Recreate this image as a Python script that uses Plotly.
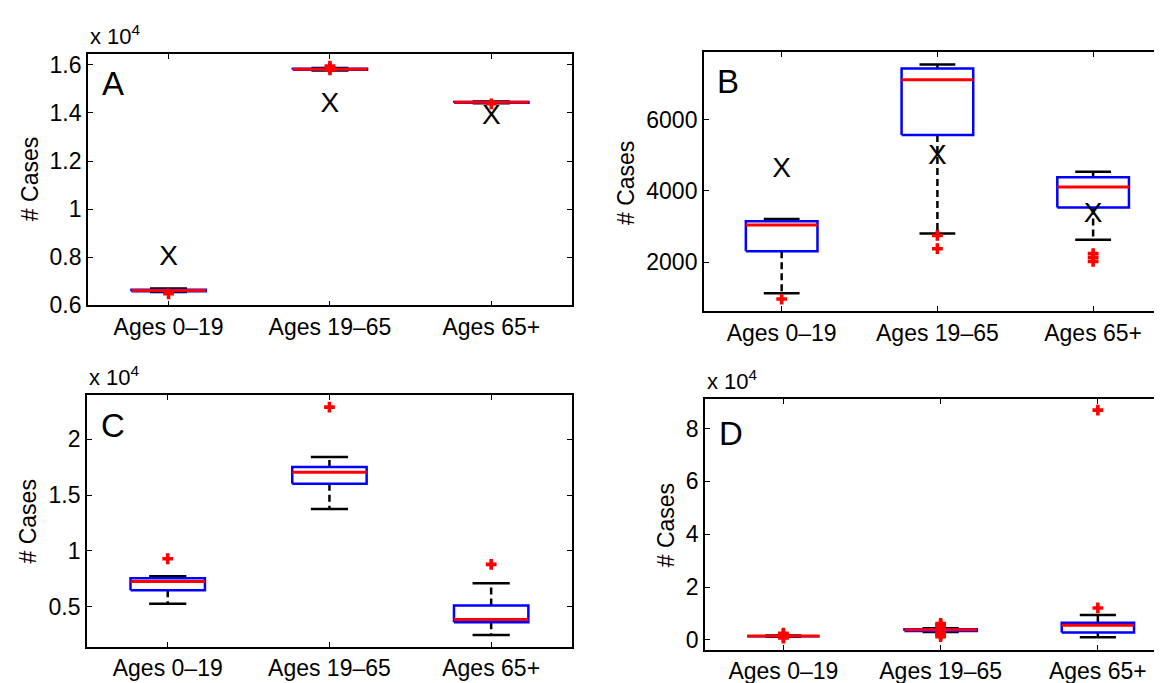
import plotly.graph_objects as go

W, H = 1162, 683
categories = ["Ages 0\u201319", "Ages 19\u201365", "Ages 65+"]

# ---- Panel A ----
A_lo = [6560, 15760, 14400]
A_q1 = [6590, 15800, 14420]
A_med = [6620, 15820, 14440]
A_q3 = [6650, 15840, 14460]
A_hi = [6700, 15870, 14480]
A_out = [[6480], [15790, 15880, 15950], [14380]]
A_x = [7950, 14350, 13850]

# ---- Panel B ----
B_lo = [1135, 2808, 2636]
B_q1 = [2308, 5564, 3536]
B_med = [3045, 7111, 4110]
B_q3 = [3154, 7431, 4382]
B_hi = [3217, 7540, 4538]
B_out = [[971], [2753, 2382], [2245, 2136, 2027]]
B_x = [4593, 4955, 3318]

# ---- Panel C ----
C_lo = [5260, 13760, 2460]
C_q1 = [6460, 16010, 3600]
C_med = [7250, 17060, 3830]
C_q3 = [7540, 17520, 5090]
C_hi = [7710, 18430, 7100]
C_out = [[9290], [22890], [8790]]

# ---- Panel D ----
D_lo = [1200, 3000, 960]
D_q1 = [1400, 3400, 2815]
D_med = [1480, 3800, 5560]
D_q3 = [1550, 4000, 6520]
D_hi = [1700, 4400, 9370]
D_out = [[700, 1100, 2000, 2500], [1200, 2000, 2600, 5000, 5600, 6200], [12075, 87000]]

FONT = "Liberation Sans, Arial, Helvetica, sans-serif"
BOXW = 0.46
CAPW = 0.23

fig = go.Figure()


def add_panel(n, lo, q1, med, q3, hi, outs, xs=None):
    xa, ya = ("x", "y") if n == 1 else (f"x{n}", f"y{n}")
    for i in range(len(categories)):
        c = i + 1
        fig.add_trace(go.Scatter(x=[c, c, None, c, c], y=[q3[i], hi[i], None, q1[i], lo[i]],
                                 mode="lines", line=dict(color="black", width=2.5, dash="7px,4px"),
                                 xaxis=xa, yaxis=ya, showlegend=False, hoverinfo="skip"))
        fig.add_trace(go.Scatter(x=[c - CAPW / 2, c + CAPW / 2, None, c - CAPW / 2, c + CAPW / 2],
                                 y=[hi[i], hi[i], None, lo[i], lo[i]],
                                 mode="lines", line=dict(color="black", width=2.5),
                                 xaxis=xa, yaxis=ya, showlegend=False, hoverinfo="skip"))
        fig.add_trace(go.Scatter(x=[c - BOXW / 2, c + BOXW / 2, c + BOXW / 2, c - BOXW / 2, c - BOXW / 2],
                                 y=[q1[i], q1[i], q3[i], q3[i], q1[i]],
                                 mode="lines", line=dict(color="#0000ff", width=2.5),
                                 xaxis=xa, yaxis=ya, showlegend=False, hoverinfo="skip"))
        fig.add_trace(go.Scatter(x=[c - BOXW / 2, c + BOXW / 2], y=[med[i], med[i]],
                                 mode="lines", line=dict(color="#ff0000", width=3),
                                 xaxis=xa, yaxis=ya, showlegend=False, hoverinfo="skip"))
        fig.add_trace(go.Scatter(x=[c] * len(outs[i]), y=outs[i], mode="markers",
                                 marker=dict(symbol="cross", size=9, color="#ff0000",
                                             line=dict(width=0)),
                                 xaxis=xa, yaxis=ya, showlegend=False, hoverinfo="skip"))
    if xs is not None:
        fig.add_trace(go.Scatter(x=[1, 2, 3], y=xs, mode="text", text=["X"] * 3,
                                 textfont=dict(family=FONT, size=28, color="black"),
                                 textposition="middle center",
                                 xaxis=xa, yaxis=ya, showlegend=False, hoverinfo="skip"))


add_panel(1, A_lo, A_q1, A_med, A_q3, A_hi, A_out, A_x)
add_panel(2, B_lo, B_q1, B_med, B_q3, B_hi, B_out, B_x)
add_panel(3, C_lo, C_q1, C_med, C_q3, C_hi, C_out)
add_panel(4, D_lo, D_q1, D_med, D_q3, D_hi, D_out)


def px(xp):
    return xp / W


def py(yp):
    return 1 - yp / H


axis_common = dict(showline=True, linecolor="black", linewidth=1.5, mirror="ticks",
                   ticks="inside", ticklen=5, tickcolor="black", tickwidth=1,
                   showgrid=False, zeroline=False,
                   tickfont=dict(family=FONT, size=23, color="black"))

xcommon = dict(axis_common, tickvals=[1, 2, 3], ticktext=categories)

layout = dict(
    width=W, height=H, margin=dict(l=0, r=0, t=0, b=0),
    paper_bgcolor="white", plot_bgcolor="white", showlegend=False,
    xaxis=dict(xcommon, domain=[px(80), px(565)], range=[0.5, 3.5], anchor="y"),
    yaxis=dict(axis_common, domain=[py(302), py(45)], range=[6000, 16450], anchor="x",
               tickvals=[6000, 8000, 10000, 12000, 14000, 16000],
               ticktext=["0.6", "0.8", "1", "1.2", "1.4", "1.6"]),
    xaxis2=dict(xcommon, domain=[px(697), 1.0], range=[0.5, 0.5 + 465 / 156], anchor="y2"),
    yaxis2=dict(axis_common, domain=[py(308), py(43)], range=[630, 7890], anchor="x2",
                tickvals=[2000, 4000, 6000], ticktext=["2000", "4000", "6000"]),
    xaxis3=dict(xcommon, domain=[px(79), px(565)], range=[0.5, 3.5], anchor="y3"),
    yaxis3=dict(axis_common, domain=[py(651), py(394)], range=[1400, 23950], anchor="x3",
                tickvals=[5000, 10000, 15000, 20000], ticktext=["0.5", "1", "1.5", "2"]),
    xaxis4=dict(xcommon, domain=[px(698), 1.0], range=[0.5, 0.5 + 464 / 157.5], anchor="y4"),
    yaxis4=dict(axis_common, domain=[py(654), py(398)], range=[-3700, 91100], anchor="x4",
                tickvals=[0, 20000, 40000, 60000, 80000], ticktext=["0", "2", "4", "6", "8"]),
)
fig.update_layout(**layout)

annots = []
for (xx, yy) in [(80, 42), (79, 391), (698, 395)]:
    annots.append(dict(x=px(xx), y=py(yy), xref="paper", yref="paper", xanchor="left", yanchor="bottom",
                       text="x 10<sup>4</sup>", showarrow=False,
                       font=dict(family=FONT, size=22, color="black")))
for (xx, yy) in [(22, 173), (619, 177), (20, 523), (660, 527)]:
    annots.append(dict(x=px(xx), y=py(yy), xref="paper", yref="paper", xanchor="center", yanchor="middle",
                       text="# Cases", textangle=-90, showarrow=False,
                       font=dict(family=FONT, size=23, color="black")))
for (lab, xx, yy) in [("A", 105, 75), ("B", 721, 73), ("C", 105, 425), ("D", 724, 433)]:
    annots.append(dict(x=px(xx), y=py(yy), xref="paper", yref="paper", xanchor="center", yanchor="middle",
                       text=lab, showarrow=False,
                       font=dict(family=FONT, size=33, color="black")))
fig.update_layout(annotations=annots)

fig.write_html("out.html")
